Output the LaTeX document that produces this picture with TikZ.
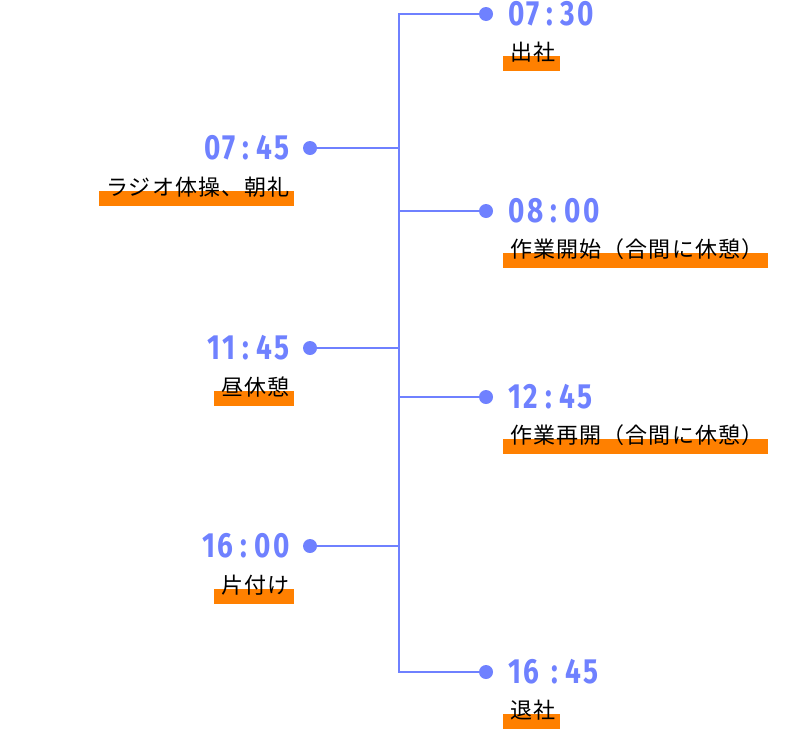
\documentclass[tikz,border=0pt]{standalone}
\usepackage{fontspec}
\setmainfont{Noto Sans CJK JP}
\newfontfamily\timefont[FakeStretch=0.8,LetterSpace=7]{Fira Sans}
\newfontfamily\taskfont[LetterSpace=5]{Noto Sans CJK JP}
\usetikzlibrary{positioning,backgrounds}
\definecolor{lineblue}{HTML}{6F81FF}
\definecolor{barorange}{HTML}{FF8000}

\begin{document}
\begin{tikzpicture}[x=1pt,y=-1pt]
\tikzset{line/.style = {draw=lineblue, line width=2pt},
   dot/.style = {circle, fill=lineblue, inner sep=0pt, minimum size=14pt},
   time/.style = {inner sep=0pt, text=lineblue, font=\timefont\bfseries\fontsize{35}{35}\selectfont},
   task/.style = {inner sep=0pt, font=\taskfont\fontsize{22}{22}\selectfont},
   bar/.style = {fill=barorange}}
\useasboundingbox (0,0) rectangle (800,734);
   % trunk
   \coordinate (top) at (399,14);
   \coordinate (bot) at (399,672);
   % right side
   \node[dot] (d0730) at (486,14) {};
   \node[dot] (d0800) at (486,211) {};
   \node[dot] (d1245) at (486,397) {};
   \node[dot] (d1645) at (486,672) {};
   \node[time, right=15pt of d0730] (t0730) {07\hspace{7pt}:\hspace{7pt}30};
   \node[time, right=15pt of d0800] (t0800) {08\hspace{7pt}:\hspace{7pt}00};
   \node[time, right=15pt of d1245] (t1245) {12\hspace{7pt}:\hspace{7pt}45};
   \node[time, right=15pt of d1645] (t1645) {16\hspace{12pt}:\hspace{7pt}45};
   \node[task, anchor=west] (s0730) at ([shift={(2,38)}]t0730.west) {出社};
   \node[task, anchor=west] (s0800) at ([shift={(2,38)}]t0800.west) {作業開始（合間に休憩）};
   \node[task, anchor=west] (s1245) at ([shift={(2,38)}]t1245.west) {作業再開（合間に休憩）};
   \node[task, anchor=west] (s1645) at ([shift={(2,38)}]t1645.west) {退社};
   % left side
   \node[dot] (d0745) at (310,148) {};
   \node[dot] (d1145) at (310,348) {};
   \node[dot] (d1600) at (310,546) {};
   \node[time, left=13pt of d0745] (t0745) {07\hspace{7pt}:\hspace{7pt}45};
   \node[time, left=13pt of d1145] (t1145) {11\hspace{7pt}:\hspace{7pt}45};
   \node[time, left=13pt of d1600] (t1600) {16\hspace{7pt}:\hspace{7pt}00};
   \node[task, anchor=east] (s0745) at ([shift={(0,39)}]t0745.east) {ラジオ体操、朝礼};
   \node[task, anchor=east] (s1145) at ([shift={(0,39)}]t1145.east) {昼休憩};
   \node[task, anchor=east] (s1600) at ([shift={(0,39)}]t1600.east) {片付け};
   % connectors
   \draw[line] (d0730) -- (top) -- (bot) -- (d1645);
   \draw[line] (d0800) -- (d0800 -| top);
   \draw[line] (d1245) -- (d1245 -| top);
   \draw[line] (d0745) -- (d0745 -| top);
   \draw[line] (d1145) -- (d1145 -| top);
   \draw[line] (d1600) -- (d1600 -| top);
   % highlight bars
   \begin{scope}[on background layer]
   \foreach \s in {s0730,s0800,s1245,s1645,s0745,s1145,s1600}
      \fill[bar] ([shift={(-7,4)}]\s.west) rectangle ([shift={(4,19)}]\s.east);
   \end{scope}
\end{tikzpicture}
\end{document}
